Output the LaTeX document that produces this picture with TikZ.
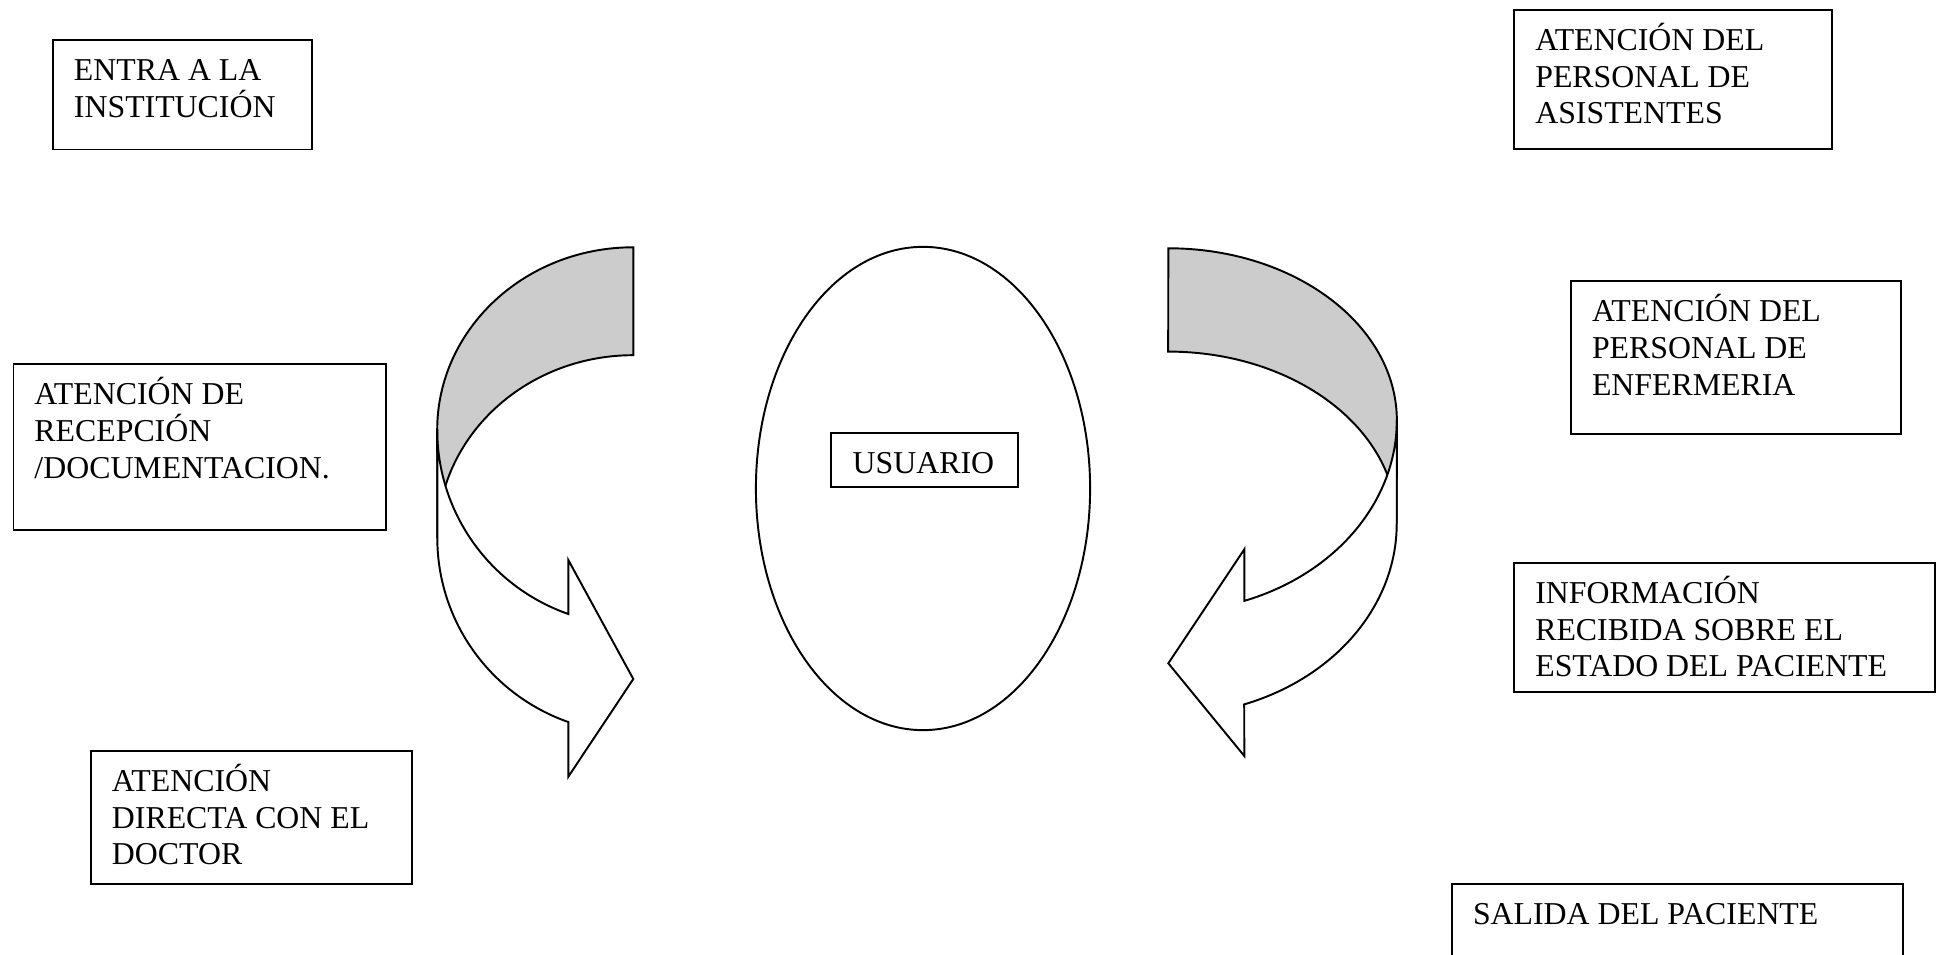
\documentclass[tikz,border=0pt]{standalone}
\usepackage{fontspec}
\setmainfont{Liberation Serif}
\usetikzlibrary{shapes.geometric}
\definecolor{ribbonback}{HTML}{CCCCCC}
% strut that fixes the height of the first text line
\newcommand{\capstrut}{\rule{0pt}{9pt}}
\begin{document}
\begin{tikzpicture}[x=0.01cm, y=0.01cm, line width=0.55pt, line join=miter,
  stepbox/.style={draw, rectangle, inner sep=0pt, anchor=north west},
  steptext/.style={anchor=north west, inner sep=0pt, align=left, yshift=9pt,
    font=\fontsize{9.05pt}{10.44pt}\selectfont},
  back/.style={draw, fill=ribbonback},
  front/.style={draw, fill=white}]
\clip (0,0) rectangle (1937,955);

% central ellipse
\node[draw, ellipse, inner sep=0pt, minimum width=3.34cm, minimum height=4.83cm] (usuario) at (923,466.5) {};
\node[stepbox, minimum width=1.867cm, minimum height=0.537cm] (usrbox) at (830,522.7) {};
\node[steptext] (usrtext) at ([xshift=0.217cm, yshift=-0.404cm]usrbox.north west) {\capstrut USUARIO};

% left curved arrow: back face, then front face
\path[back] (633.3,707.7) arc[start angle=90, end angle=180, x radius=1.96cm, y radius=1.827cm]
  -- (437.3,417) arc[start angle=180, end angle=90, x radius=1.96cm, y radius=1.827cm] -- cycle;
\path[front] (437.3,525) -- (437.3,417)
  arc[start angle=180, end angle=250.63, x radius=1.96cm, y radius=1.95cm]
  -- (568.3,178.3) -- (633.3,276) -- (568.3,395) -- (568.3,341)
  arc[start angle=250.63, end angle=180, x radius=1.96cm, y radius=1.95cm] -- cycle;

% right curved arrow: back face, then front face
\path[back] (1168.3,706.7) arc[start angle=90, end angle=0, x radius=2.284cm, y radius=1.72cm]
  -- (1396.7,431.3) arc[start angle=0, end angle=90, x radius=2.284cm, y radius=1.72cm] -- cycle;
\path[front] (1396.7,534.7) -- (1396.7,431.3)
  arc[start angle=0, end angle=-70.57, x radius=2.284cm, y radius=1.915cm]
  -- (1244.3,199) -- (1168.3,291.7) -- (1244.3,405.7) -- (1244.3,354.1)
  arc[start angle=-70.57, end angle=0, x radius=2.284cm, y radius=1.915cm] -- cycle;

% left column of steps
\node[stepbox, minimum width=2.585cm, minimum height=1.095cm] (entra) at (52,916) {};
\node[steptext] (entratext) at ([xshift=0.21cm, yshift=-0.405cm]entra.north west)
  {\capstrut ENTRA A LA\\INSTITUCIÓN};

\node[stepbox, minimum width=3.725cm, minimum height=1.655cm] (recep) at (12.5,591.5) {};
\node[steptext] (receptext) at ([xshift=0.21cm, yshift=-0.405cm]recep.north west)
  {\capstrut ATENCIÓN DE\\RECEPCIÓN\\/DOCUMENTACION.};

\node[stepbox, minimum width=3.21cm, minimum height=1.33cm] (doctor) at (90,205) {};
\node[steptext] (doctortext) at ([xshift=0.21cm, yshift=-0.405cm]doctor.north west)
  {\capstrut ATENCIÓN\\DIRECTA CON EL\\DOCTOR};

% right column of steps
\node[stepbox, minimum width=3.177cm, minimum height=1.393cm] (asist) at (1513.3,946) {};
\node[steptext] (asisttext) at ([xshift=0.21cm, yshift=-0.405cm]asist.north west)
  {\capstrut ATENCIÓN DEL\\PERSONAL DE\\ASISTENTES};

\node[stepbox, minimum width=3.30cm, minimum height=1.52cm] (enferm) at (1570,674.5) {};
\node[steptext] (enfermtext) at ([xshift=0.21cm, yshift=-0.405cm]enferm.north west)
  {\capstrut ATENCIÓN DEL\\PERSONAL DE\\ENFERMERIA};

\node[stepbox, minimum width=4.207cm, minimum height=1.29cm] (info) at (1513.3,393) {};
\node[steptext] (infotext) at ([xshift=0.21cm, yshift=-0.405cm]info.north west)
  {\capstrut INFORMACIÓN\\RECIBIDA SOBRE EL\\ESTADO DEL PACIENTE};

\node[stepbox, minimum width=4.505cm, minimum height=1.00cm] (salida) at (1451,71.7) {};
\node[steptext] (salidatext) at ([xshift=0.21cm, yshift=-0.405cm]salida.north west)
  {\capstrut SALIDA DEL PACIENTE};
\end{tikzpicture}
\end{document}
